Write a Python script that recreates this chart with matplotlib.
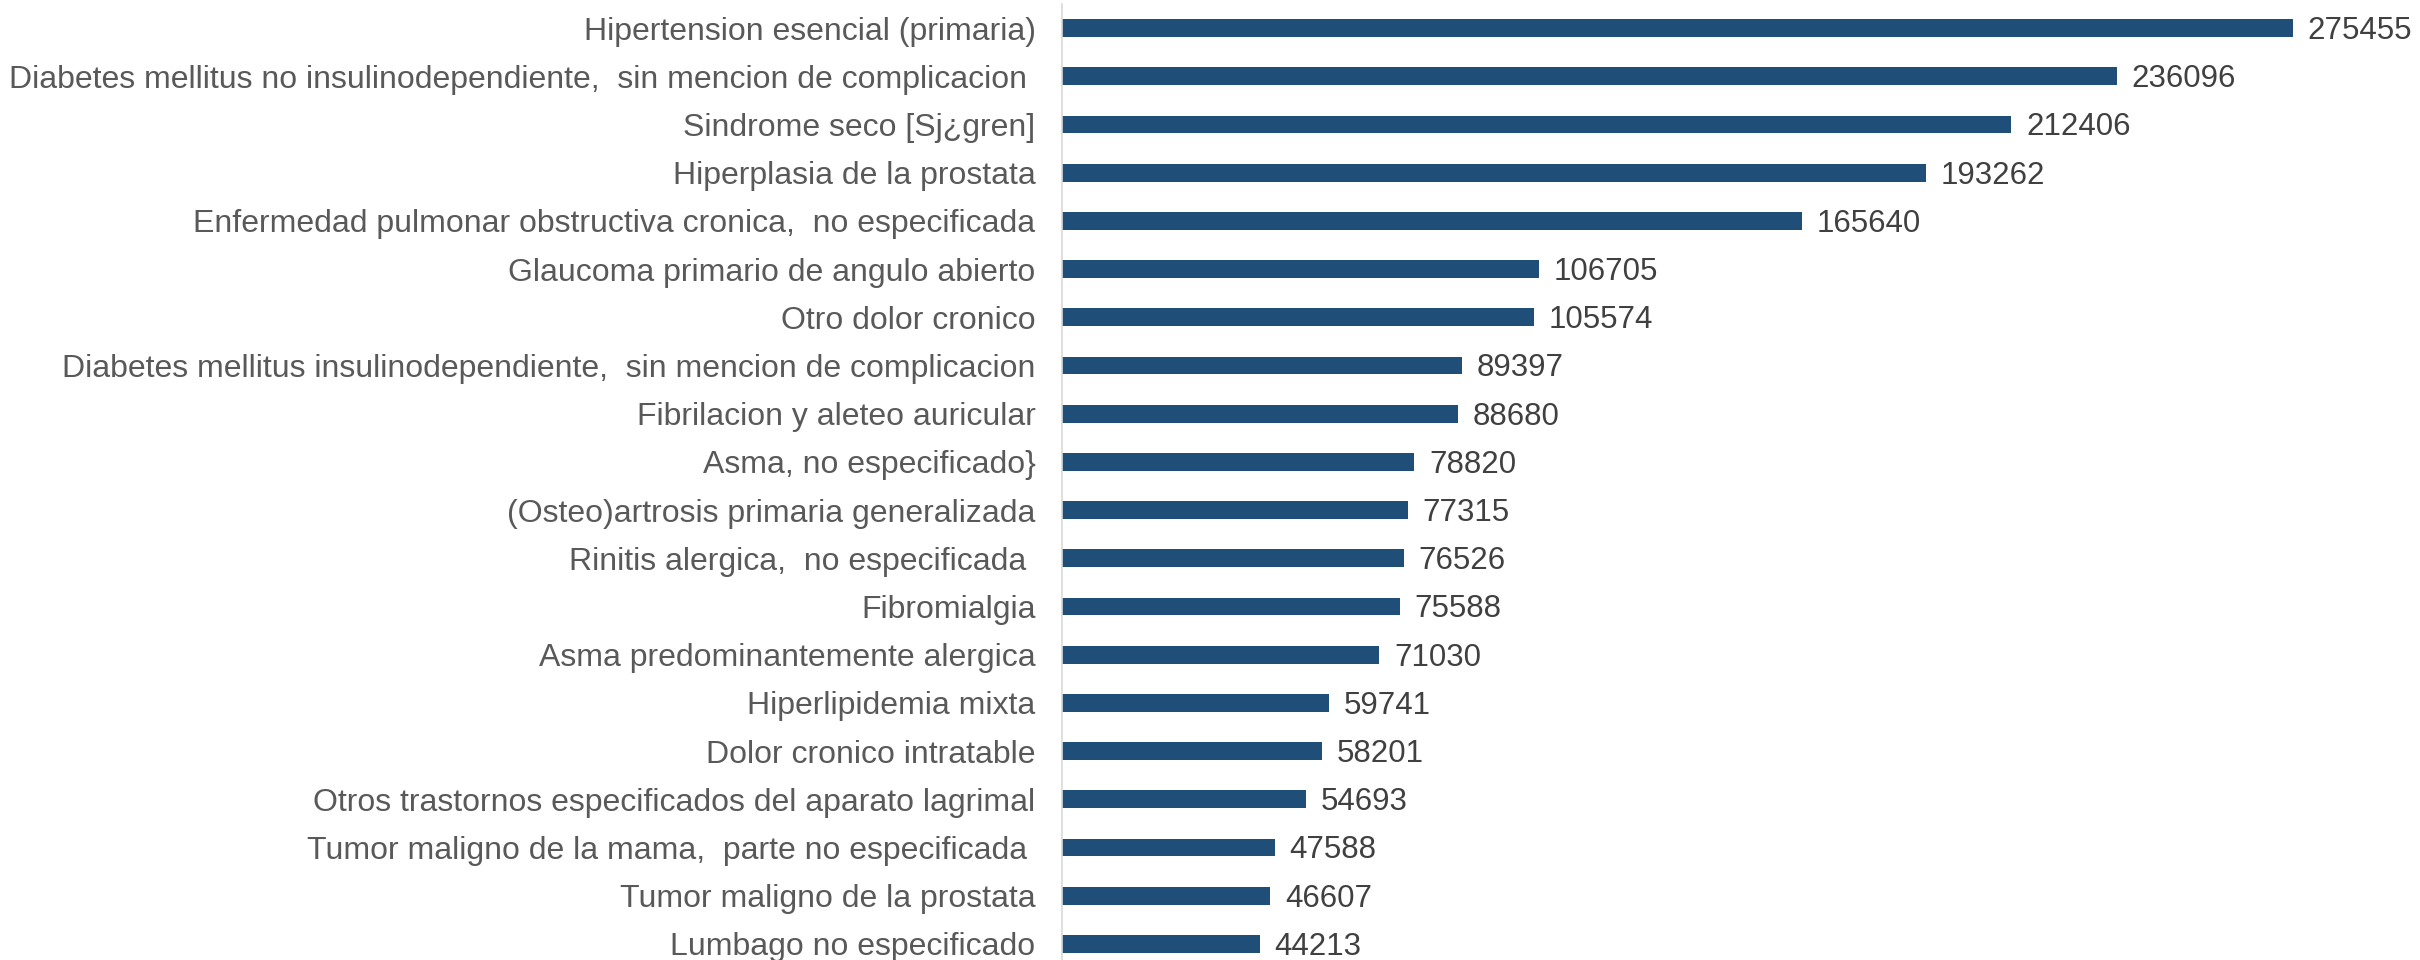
import matplotlib
matplotlib.use('Agg')
import matplotlib.pyplot as plt

plt.rcParams['font.family'] = ['Liberation Sans', 'DejaVu Sans']

# Data
categories = [
    'Hipertension esencial (primaria)',
    'Diabetes mellitus no insulinodependiente,  sin mencion de complicacion ',
    'Sindrome seco [Sj\u00bfgren]',
    'Hiperplasia de la prostata',
    'Enfermedad pulmonar obstructiva cronica,  no especificada',
    'Glaucoma primario de angulo abierto',
    'Otro dolor cronico',
    'Diabetes mellitus insulinodependiente,  sin mencion de complicacion',
    'Fibrilacion y aleteo auricular',
    'Asma, no especificado}',
    '(Osteo)artrosis primaria generalizada',
    'Rinitis alergica,  no especificada ',
    'Fibromialgia',
    'Asma predominantemente alergica',
    'Hiperlipidemia mixta',
    'Dolor cronico intratable',
    'Otros trastornos especificados del aparato lagrimal',
    'Tumor maligno de la mama,  parte no especificada ',
    'Tumor maligno de la prostata',
    'Lumbago no especificado',
]
values = [275455, 236096, 212406, 193262, 165640, 106705, 105574, 89397, 88680,
          78820, 77315, 76526, 75588, 71030, 59741, 58201, 54693, 47588, 46607, 44213]

bar_color = '#1f4e79'
label_color = '#595959'
value_color = '#404040'

fig = plt.figure(figsize=(24.2, 9.6), dpi=100)
# axes spans past the bottom a little, like the cropped original
ax = fig.add_axes([1062 / 2420, -8 / 960, 1 - 1062 / 2420, 964 / 960])

pos = list(range(len(categories)))
ax.barh(pos, values, height=0.37, color=bar_color)
ax.set_ylim(len(categories) - 0.5, -0.5)
ax.set_xlim(0, 303870)

ax.set_yticks(pos)
ax.set_yticklabels(categories, fontsize=23, color=label_color)
ax.tick_params(axis='y', length=0, pad=19)
ax.set_xticks([])

# value labels sit a touch below bar centre in the original
for p, v in zip(pos, values):
    ax.text(v + 3300, p + 0.06, str(v), va='center', ha='left', fontsize=22.5, color=value_color)

for s in ['top', 'right', 'bottom']:
    ax.spines[s].set_visible(False)
ax.spines['left'].set_color('#d9d9d9')
ax.spines['left'].set_linewidth(1.2)

fig.savefig('out.png', dpi=100)
